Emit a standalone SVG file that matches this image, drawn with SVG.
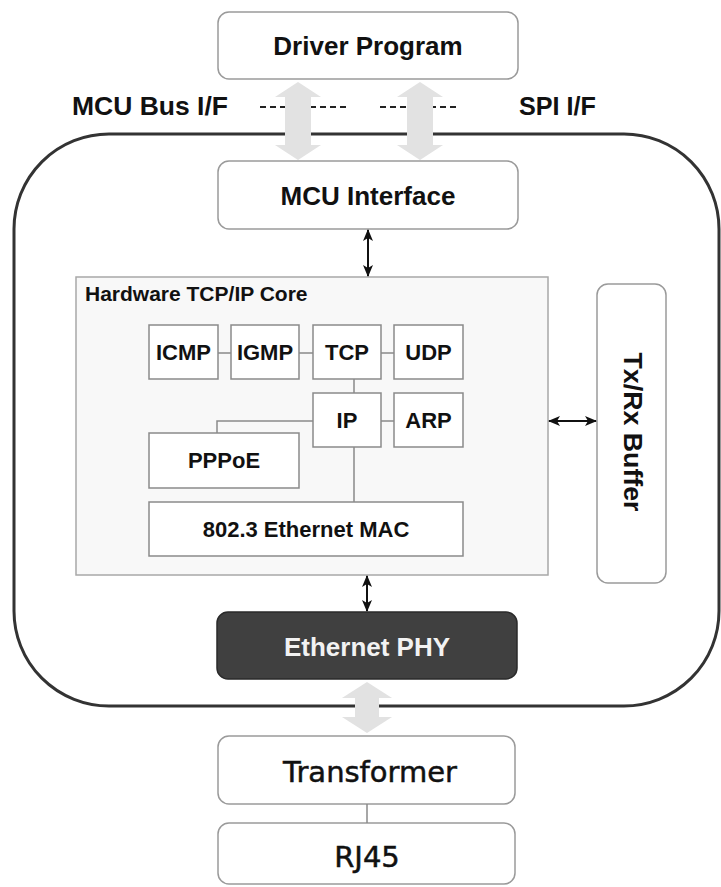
<svg xmlns="http://www.w3.org/2000/svg" width="721" height="887" viewBox="0 0 721 887">
  <style>
    .box { fill: #ffffff; stroke: #9a9a9a; stroke-width: 1.5; }
    .core { fill: #f8f8f8; stroke: #a8a8a8; stroke-width: 1.5; }
    .blk { fill: #ffffff; stroke: #8a8a8a; stroke-width: 1.5; }
    .phy { fill: #404040; stroke: #2a2a2a; stroke-width: 1.5; }
    .lbl { font-family: "Liberation Sans", Arial, sans-serif; font-weight: bold; fill: #111; }
    .big { font-size: 26px; text-anchor: middle; }
    .mid { font-size: 22px; text-anchor: middle; }
    .dv { font-family: "DejaVu Sans", Verdana, sans-serif; font-size: 29px; fill: #111; text-anchor: middle; stroke: #111; stroke-width: 0.5; }
    .link { stroke: #8a8a8a; stroke-width: 1.5; fill: none; }
    .dbl { stroke: #111; stroke-width: 2; fill: none; marker-start: url(#head); marker-end: url(#head); }
    .fat { fill: #e2e2e2; }
    .dash { stroke: #222; stroke-width: 2; stroke-dasharray: 6 4; }
  </style>
  <defs>
    <marker id="head" viewBox="0 0 12 10" refX="11" refY="5" markerWidth="12" markerHeight="10" markerUnits="userSpaceOnUse" orient="auto-start-reverse">
      <path d="M0,0 L12,5 L0,10 L3,5 Z" fill="#111"/>
    </marker>
  </defs>

  <!-- chip outline -->
  <rect id="chip" x="14" y="134" width="705" height="572" rx="95" ry="95" fill="#ffffff" stroke="#333" stroke-width="3"/>

  <!-- interface labels -->
  <text class="lbl" x="72" y="115" font-size="26" textLength="156" lengthAdjust="spacingAndGlyphs">MCU Bus I/F</text>
  <text class="lbl" x="519" y="115" font-size="26" textLength="77" lengthAdjust="spacingAndGlyphs">SPI I/F</text>
  <line class="dash" x1="260" y1="107" x2="346" y2="107"/>
  <line class="dash" x1="380" y1="107" x2="460" y2="107"/>

  <g id="driver">
    <rect class="box" x="218" y="12" width="300" height="67" rx="11"/>
    <text class="lbl big" x="368" y="55">Driver Program</text>
  </g>

  <g id="mcu-interface">
    <rect class="box" x="218" y="161" width="300" height="68" rx="11"/>
    <text class="lbl big" x="368" y="205">MCU Interface</text>
  </g>

  <g id="tcpip-core">
    <rect class="core" x="76" y="277" width="472" height="298"/>
    <text class="lbl" x="85" y="301" font-size="21">Hardware TCP/IP Core</text>
  </g>

  <g id="icmp">
    <rect class="blk" x="149" y="325" width="69" height="54"/>
    <text class="lbl mid" x="183.5" y="360">ICMP</text>
  </g>
  <g id="igmp">
    <rect class="blk" x="231" y="325" width="68" height="54"/>
    <text class="lbl mid" x="265" y="360">IGMP</text>
  </g>
  <g id="tcp">
    <rect class="blk" x="313" y="325" width="68" height="54"/>
    <text class="lbl mid" x="347" y="360">TCP</text>
  </g>
  <g id="udp">
    <rect class="blk" x="394" y="325" width="69" height="54"/>
    <text class="lbl mid" x="428.5" y="360">UDP</text>
  </g>
  <g id="ip">
    <rect class="blk" x="313" y="393" width="68" height="54"/>
    <text class="lbl mid" x="347" y="428">IP</text>
  </g>
  <g id="arp">
    <rect class="blk" x="394" y="393" width="69" height="54"/>
    <text class="lbl mid" x="428.5" y="428">ARP</text>
  </g>
  <g id="pppoe">
    <rect class="blk" x="149" y="433" width="150" height="55"/>
    <text class="lbl mid" x="224" y="468">PPPoE</text>
  </g>
  <g id="mac">
    <rect class="blk" x="149" y="502" width="314" height="54"/>
    <text class="lbl mid" x="306" y="537">802.3 Ethernet MAC</text>
  </g>

  <g id="txrx-buffer">
    <rect class="box" x="597" y="284" width="69" height="299" rx="11"/>
    <text class="lbl big" transform="translate(624,432) rotate(90)" x="0" y="0" textLength="159" lengthAdjust="spacingAndGlyphs">Tx/Rx Buffer</text>
  </g>

  <g id="ethernet-phy">
    <rect class="phy" x="217" y="612" width="300" height="67" rx="11"/>
    <text class="lbl big" x="367" y="656" style="fill:#f2f2f2">Ethernet PHY</text>
  </g>

  <g id="transformer">
    <rect class="box" x="218" y="736" width="297" height="68" rx="11"/>
    <text class="dv" x="370" y="782">Transformer</text>
  </g>

  <g id="rj45">
    <rect class="box" x="218" y="823" width="297" height="61" rx="11"/>
    <text class="dv" x="367" y="867">RJ45</text>
  </g>

  <g id="connectors">
    <!-- wide bus arrows -->
    <path class="fat" d="M298,82 L321,97 L311,97 L311,145 L321,145 L298,160 L275,145 L285,145 L285,97 L275,97 Z"/>
    <path class="fat" d="M420,82 L443,97 L433,97 L433,145 L443,145 L420,160 L397,145 L407,145 L407,97 L397,97 Z"/>
    <path class="fat" d="M367,682 L392,698 L379,698 L379,717 L392,717 L367,733 L342,717 L355,717 L355,698 L342,698 Z"/>
    <!-- data paths -->
    <line class="dbl" x1="368" y1="230" x2="368" y2="276"/>
    <line class="dbl" x1="549" y1="421" x2="596" y2="421"/>
    <line class="dbl" x1="367" y1="576" x2="367" y2="611"/>
    <!-- protocol stack links -->
    <line class="link" x1="218" y1="353" x2="231" y2="353"/>
    <line class="link" x1="299" y1="353" x2="313" y2="353"/>
    <line class="link" x1="381" y1="353" x2="394" y2="353"/>
    <line class="link" x1="354" y1="379" x2="354" y2="393"/>
    <line class="link" x1="381" y1="421" x2="394" y2="421"/>
    <polyline class="link" points="313,421 217,421 217,433"/>
    <line class="link" x1="354" y1="447" x2="354" y2="502"/>
    <line class="link" x1="367" y1="804" x2="367" y2="823"/>
  </g>
</svg>
